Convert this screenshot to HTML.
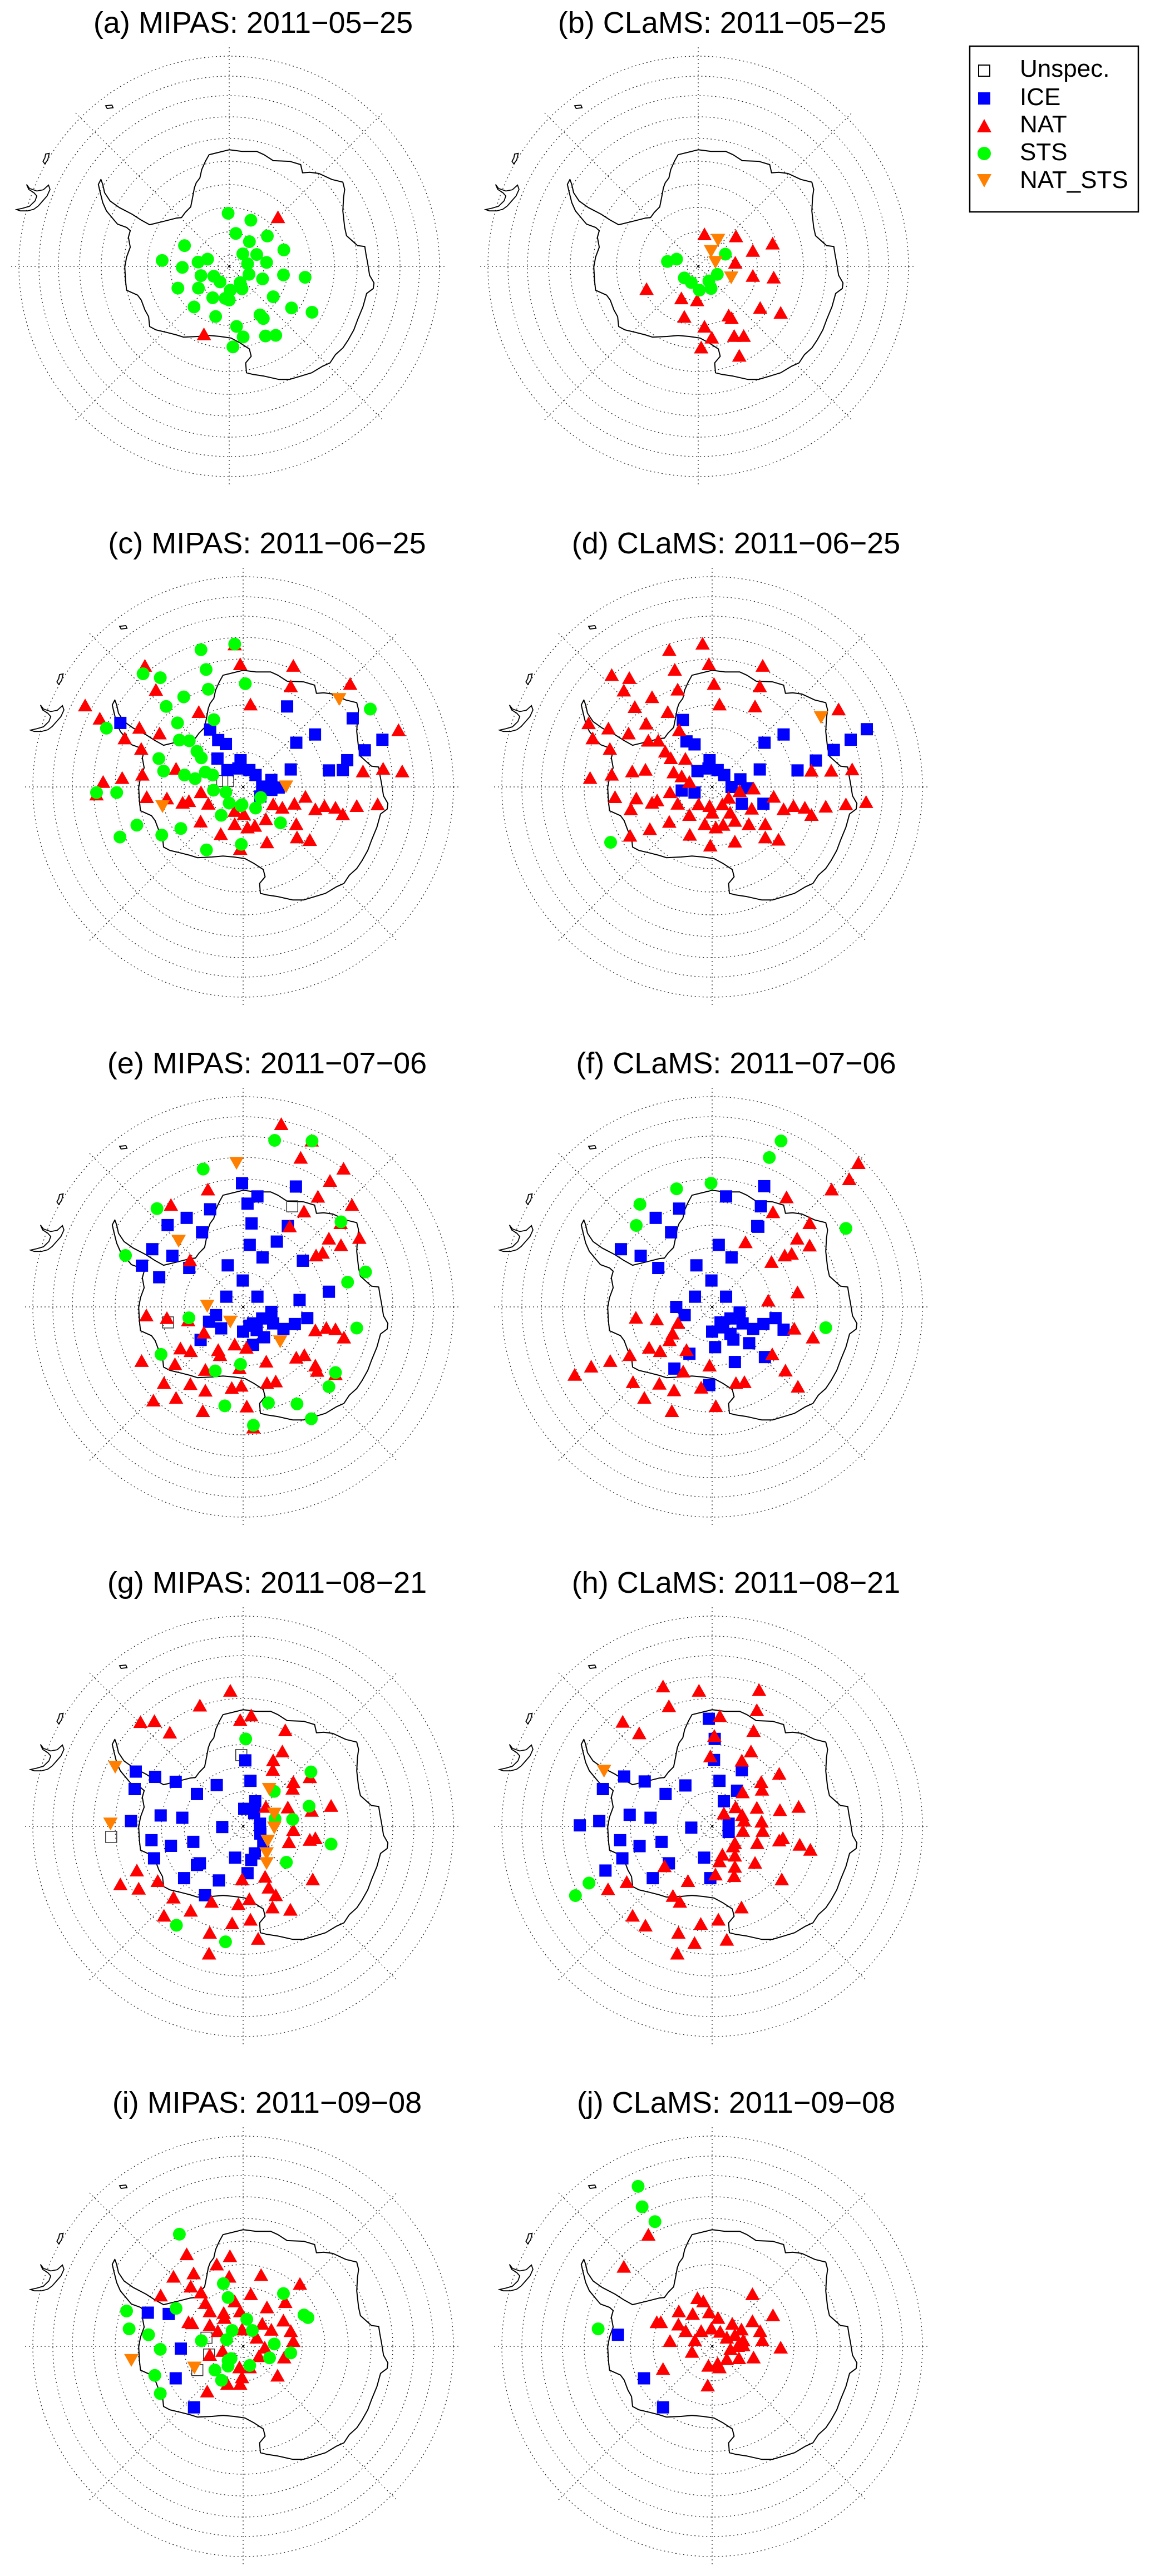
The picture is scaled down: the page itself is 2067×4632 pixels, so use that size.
<!DOCTYPE html>
<html>
<head>
<meta charset="utf-8">
<style>
  html,body{margin:0;padding:0;background:#fff;}
  svg{display:block;}
  text{font-family:"Liberation Sans",Arial,sans-serif;fill:#000;}
</style>
</head>
<body>
<svg id="fig" xmlns="http://www.w3.org/2000/svg" width="2067" height="4632" viewBox="0 0 2067 4632">
  <g id="legend">
    <rect x="1743" y="83" width="303" height="298" fill="#fff" stroke="#000" stroke-width="2.5"/>
    <g>
      <rect x="1759" y="117" width="20" height="20" fill="none" stroke="#000" stroke-width="2"/>
      <text x="1833" y="138" font-size="44">Unspec.</text>
    </g>
    <g>
      <rect x="1758" y="166" width="22" height="22" fill="#0000ff"/>
      <text x="1833" y="189" font-size="44">ICE</text>
    </g>
    <g>
      <polygon points="1769,214 1782,238 1756,238" fill="#ff0000"/>
      <text x="1833" y="238" font-size="44">NAT</text>
    </g>
    <g>
      <circle cx="1769" cy="276" r="12" fill="#00ff00"/>
      <text x="1833" y="288" font-size="44">STS</text>
    </g>
    <g>
      <polygon points="1756,313 1782,313 1769,337" fill="#ff7f00"/>
      <text x="1833" y="338" font-size="44">NAT_STS</text>
    </g>
  </g>
</svg>
<script>
// ---------- data (marker positions, zoom-image map coords) ----------
const a_STS=[[622,647],[684,668],[643,708],[729,716],[680,733],[503,745],[774,758],[662,770],[700,772],[442,790],[540,795],[566,786],[497,811],[675,800],[727,796],[548,836],[679,832],[773,834],[832,841],[583,838],[600,855],[716,846],[655,857],[485,874],[541,874],[628,880],[660,876],[580,903],[614,905],[625,910],[745,900],[529,931],[795,934],[851,947],[588,960],[709,955],[718,966],[645,990],[663,1022],[724,1019],[752,1017],[635,1052]];
const a_NAT=[[758,660],[556,1015]];
const a_ICE=[];const a_UNS=[];const a_NS=[];

const b_NAT=[[354,712],[440,718],[540,740],[486,762],[438,798],[486,838],[543,843],[196,878],[291,906],[334,912],[299,962],[420,958],[428,966],[506,935],[562,950],[354,992],[374,1025],[435,1020],[461,1020],[345,1055],[449,1080]];
const b_NS=[[391,728],[372,762],[384,795],[427,842]];
const b_STS=[[253,793],[278,786],[411,771],[389,832],[299,843],[318,857],[366,852],[340,880],[372,875]];
const b_ICE=[];const b_UNS=[];

const c_NAT=[[395,460],[640,395],[655,455],[800,460],[793,522],[955,515],[425,533],[683,577],[232,580],[542,600],[272,620],[380,648],[435,665],[340,680],[385,712],[1087,655],[990,780],[1045,772],[1097,780],[480,772],[388,790],[333,800],[281,812],[263,850],[400,858],[455,862],[498,875],[515,870],[548,843],[568,878],[640,900],[665,910],[745,880],[770,890],[803,878],[833,857],[860,895],[885,885],[915,890],[935,910],[973,885],[1030,880],[547,932],[640,940],[675,950],[695,945],[725,925],[808,940],[602,970],[728,995],[810,980],[845,988],[655,1015]];
const c_STS=[[640,393],[548,410],[562,470],[390,483],[437,495],[669,513],[568,530],[501,553],[453,582],[1010,590],[583,622],[484,632],[290,648],[489,684],[516,686],[537,718],[549,738],[433,740],[446,778],[503,790],[532,801],[560,781],[580,790],[263,843],[318,843],[582,836],[616,842],[625,875],[657,883],[660,880],[697,890],[711,858],[603,912],[765,935],[373,942],[327,978],[441,972],[493,952],[563,1017],[658,1000]];
const c_ICE=[[328,632],[783,582],[962,618],[573,652],[595,684],[616,696],[859,667],[808,692],[1043,683],[995,715],[593,740],[656,745],[947,745],[620,775],[650,770],[680,775],[697,790],[793,773],[897,776],[935,775],[740,805],[715,825],[740,835],[760,828],[710,855]];
const c_NS=[[925,560],[780,825],[443,885]];
const c_UNS=[[606,808],[622,808]];

const d_NAT=[[349,393],[258,412],[366,455],[513,460],[273,472],[101,488],[149,497],[380,515],[505,522],[134,535],[281,532],[211,555],[164,585],[395,577],[492,583],[254,600],[38,634],[92,650],[195,635],[285,655],[147,665],[49,680],[201,687],[228,687],[96,712],[247,720],[262,740],[302,742],[720,592],[646,778],[700,778],[757,774],[42,800],[101,790],[157,780],[193,775],[270,783],[292,795],[313,812],[260,843],[110,858],[168,862],[211,875],[225,868],[281,878],[153,895],[338,880],[368,885],[375,905],[403,880],[420,860],[450,840],[488,832],[543,857],[483,893],[424,905],[437,930],[570,895],[597,885],[628,890],[646,912],[685,887],[740,880],[795,873],[313,912],[258,933],[355,940],[385,950],[405,942],[475,940],[520,940],[205,955],[314,972],[520,980],[437,993],[556,987],[370,1005],[151,975]];
const d_ICE=[[295,623],[305,688],[327,697],[518,692],[570,667],[797,651],[753,683],[707,714],[658,746],[608,776],[505,773],[368,745],[335,778],[365,770],[390,775],[408,790],[452,803],[428,826],[470,830],[292,837],[327,843],[456,877],[515,877]];
const d_NS=[[672,615]];
const d_STS=[[98,994]];
const d_UNS=[];

const e_NAT=[[767,290],[850,340],[820,392],[937,425],[900,462],[567,488],[867,510],[466,535],[960,535],[829,555],[929,590],[790,600],[897,637],[980,635],[930,657],[862,688],[880,680],[518,703],[399,870],[455,878],[513,885],[556,922],[860,915],[890,908],[915,912],[938,937],[492,970],[520,978],[595,975],[600,990],[640,958],[672,968],[386,1008],[477,1018],[726,1010],[808,998],[830,990],[860,1022],[865,1038],[915,1048],[560,1035],[653,1030],[447,1075],[519,1078],[560,1098],[632,1090],[658,1083],[728,1075],[752,1070],[418,1128],[480,1120],[553,1160],[673,1146],[691,1210]];
const e_STS=[[749,338],[851,340],[554,425],[428,545],[930,585],[342,687],[997,737],[948,768],[515,876],[973,907],[439,987],[656,1017],[587,1037],[915,1042],[897,1085],[613,1143],[732,1134],[810,1137],[849,1182],[691,1202]];
const e_ICE=[[660,468],[807,478],[702,508],[675,530],[573,547],[509,573],[457,595],[551,617],[686,590],[785,598],[681,655],[755,645],[415,668],[470,688],[716,693],[826,703],[516,725],[387,718],[434,753],[621,717],[662,763],[617,812],[702,812],[817,822],[897,797],[589,868],[570,888],[603,908],[740,858],[715,878],[690,893],[745,893],[773,910],[804,895],[838,877],[663,918],[700,913],[720,935],[690,958],[547,943],[680,900]];
const e_NS=[[645,407],[487,643],[565,840],[628,888],[764,948]];
const e_UNS=[[797,538],[458,890]];

const f_STS=[[563,340],[531,390],[278,485],[372,468],[178,532],[168,596],[740,605],[685,906]];
const f_NAT=[[774,408],[749,457],[701,488],[578,512],[541,557],[641,590],[607,637],[641,658],[466,648],[573,688],[592,683],[537,708],[608,800],[528,825],[599,910],[650,937],[167,877],[224,882],[282,893],[267,925],[259,945],[203,968],[233,978],[305,975],[150,990],[97,1008],[45,1025],[0,1050],[539,988],[575,1037],[609,1086],[368,1022],[296,1040],[159,1072],[231,1077],[271,1097],[345,1089],[440,1075],[463,1072],[190,1120],[265,1160],[385,1145]];
const f_ICE=[[517,477],[413,508],[508,538],[285,545],[221,573],[263,617],[498,598],[501,600],[393,655],[126,668],[180,688],[428,693],[228,725],[332,717],[373,763],[328,812],[413,812],[277,843],[300,868],[450,860],[425,878],[398,890],[405,905],[458,893],[487,910],[515,895],[548,877],[570,912],[375,918],[425,925],[433,942],[476,953],[383,965],[313,985],[437,1010],[519,995],[272,1030],[367,1080]];
const f_NS=[];const f_UNS=[];

const g_NAT=[[628,448],[545,493],[383,543],[421,540],[463,575],[655,537],[685,523],[778,568],[770,632],[745,659],[744,688],[800,725],[845,710],[798,745],[725,800],[785,802],[903,797],[850,812],[800,870],[788,907],[845,900],[860,895],[853,1020],[373,993],[430,1025],[328,1035],[378,1048],[723,1012],[733,1045],[752,1068],[660,1020],[577,1088],[650,1095],[680,1080],[743,1105],[792,1112],[473,1075],[520,1115],[447,1130],[633,1153],[683,1142],[572,1182],[704,1200],[570,1245]];
const g_STS=[[670,593],[848,693],[748,752],[843,797],[750,835],[798,837],[903,912],[781,967],[481,1158],[615,1208]];
const g_ICE=[[669,658],[683,720],[370,692],[423,708],[479,723],[367,745],[537,760],[591,733],[696,782],[666,805],[693,818],[709,850],[710,880],[718,910],[606,860],[357,842],[438,825],[497,832],[413,900],[466,917],[527,905],[420,955],[537,975],[545,970],[641,953],[685,960],[695,940],[675,1000],[597,1022],[502,1015],[559,1067]];
const g_NS=[[314,678],[734,745],[748,820],[748,862],[730,902],[727,940],[727,970],[301,850]];
const g_UNS=[[658,642],[303,890]];

const h_NAT=[[241,435],[339,448],[503,446],[257,495],[497,507],[396,525],[131,542],[176,577],[488,570],[381,585],[481,632],[370,647],[456,660],[558,700],[509,725],[511,748],[458,756],[439,801],[497,803],[560,810],[611,800],[407,820],[457,825],[462,842],[510,845],[513,873],[459,873],[558,902],[568,895],[614,915],[643,930],[498,910],[437,910],[432,920],[403,945],[437,948],[395,965],[492,970],[437,982],[435,1010],[384,1005],[565,1020],[245,980],[309,1025],[142,1028],[91,1050],[268,1070],[287,1088],[455,1105],[158,1130],[193,1160],[344,1155],[392,1142],[283,1182],[327,1213],[415,1203],[280,1245]];
const h_ICE=[[366,532],[382,593],[380,657],[456,688],[135,707],[191,722],[302,734],[248,760],[77,745],[395,720],[443,750],[407,782],[150,823],[207,832],[67,842],[14,855],[318,862],[420,850],[420,875],[124,900],[177,918],[237,905],[130,955],[257,970],[353,953],[213,1015],[84,992],[370,1015]];
const h_NS=[[80,690]];
const h_STS=[[39,1030],[2,1068]];
const h_UNS=[];

const i_STS=[[489,535],[609,685],[622,727],[480,760],[345,768],[352,822],[405,840],[773,715],[829,780],[840,788],[673,793],[688,827],[633,827],[618,855],[549,858],[437,884],[748,868],[793,895],[735,910],[622,918],[630,912],[622,935],[681,933],[586,947],[604,978],[422,963],[437,1018]];
const i_NAT=[[509,597],[591,628],[627,603],[473,665],[528,655],[625,665],[712,660],[520,695],[548,713],[438,722],[560,745],[640,740],[684,718],[572,770],[610,775],[655,770],[728,758],[818,687],[778,742],[514,803],[524,806],[572,812],[594,830],[612,790],[660,825],[715,808],[740,826],[773,798],[793,830],[800,860],[700,850],[722,880],[706,906],[775,910],[607,890],[572,902],[653,940],[681,940],[655,990],[620,990],[565,1013],[757,965],[660,970]];
const i_ICE=[[403,773],[460,777],[493,882],[479,972],[529,1060]];
const i_NS=[[358,917],[530,940]];
const i_UNS=[[563,849],[570,900],[538,947]];

const j_STS=[[173,390],[184,452],[219,497],[64,822]];
const j_NAT=[[201,538],[134,635],[485,718],[335,730],[351,740],[284,770],[322,778],[367,773],[391,790],[541,782],[224,803],[235,803],[283,810],[303,830],[345,830],[373,822],[397,832],[430,808],[455,825],[485,800],[506,830],[512,858],[260,860],[328,858],[415,850],[437,842],[460,858],[320,893],[425,885],[445,875],[460,873],[562,880],[488,910],[415,915],[448,912],[365,935],[395,940],[390,928],[241,945],[363,995]];
const j_ICE=[[118,840],[189,972],[241,1060]];
const j_NS=[];const j_UNS=[];

const panelTitles=["(a) MIPAS: 2011\u221205\u221225","(b) CLaMS: 2011\u221205\u221225","(c) MIPAS: 2011\u221206\u221225","(d) CLaMS: 2011\u221206\u221225","(e) MIPAS: 2011\u221207\u221206","(f) CLaMS: 2011\u221207\u221206","(g) MIPAS: 2011\u221208\u221221","(h) CLaMS: 2011\u221208\u221221","(i) MIPAS: 2011\u221209\u221208","(j) CLaMS: 2011\u221209\u221208"];
const panelSeries=[
 {UNS:a_UNS,ICE:a_ICE,NAT:a_NAT,STS:a_STS,NS:a_NS},
 {UNS:b_UNS,ICE:b_ICE,NAT:b_NAT,STS:b_STS,NS:b_NS},
 {UNS:c_UNS,ICE:c_ICE,NAT:c_NAT,STS:c_STS,NS:c_NS},
 {UNS:d_UNS,ICE:d_ICE,NAT:d_NAT,STS:d_STS,NS:d_NS},
 {UNS:e_UNS,ICE:e_ICE,NAT:e_NAT,STS:e_STS,NS:e_NS},
 {UNS:f_UNS,ICE:f_ICE,NAT:f_NAT,STS:f_STS,NS:f_NS},
 {UNS:g_UNS,ICE:g_ICE,NAT:g_NAT,STS:g_STS,NS:g_NS},
 {UNS:h_UNS,ICE:h_ICE,NAT:h_NAT,STS:h_STS,NS:h_NS},
 {UNS:i_UNS,ICE:i_ICE,NAT:i_NAT,STS:i_STS,NS:i_NS},
 {UNS:j_UNS,ICE:j_ICE,NAT:j_NAT,STS:j_STS,NS:j_NS}
];

// ---------- layout ----------
const NS_="http://www.w3.org/2000/svg";
const svg=document.getElementById('fig');
const layout=[
 {cx:412,cy:479,ox:625,oy:808},{cx:1255,cy:479,ox:337,oy:808},
 {cx:437,cy:1415,ox:663,oy:826},{cx:1280,cy:1415,ox:375,oy:826},
 {cx:437,cy:2350,ox:663,oy:843},{cx:1280,cy:2350,ox:375,oy:843},
 {cx:437,cy:3284,ox:663,oy:858},{cx:1280,cy:3284,ox:375,oy:858},
 {cx:437,cy:4219,ox:663,oy:875},{cx:1280,cy:4219,ox:375,oy:875}
];
const KX=1.518, KY=1.686;
const rings=[20,62,106,147,189,230,269,307,342,378];
const coast=[[625,455],[660,460],[700,460],[720,470],[745,488],[790,490],[820,500],[825,525],[845,523],[870,527],[905,545],[935,553],[940,575],[937,600],[935,640],[940,690],[945,715],[975,745],[995,748],[998,770],[1003,800],[1008,835],[1020,858],[1018,875],[1000,890],[990,930],[975,970],[965,1000],[950,1030],[935,1055],[915,1075],[900,1100],[880,1110],[850,1130],[820,1140],[790,1150],[760,1150],[720,1140],[690,1135],[672,1130],[670,1100],[685,1080],[680,1058],[655,1040],[630,1025],[600,1020],[570,1017],[540,1020],[500,1022],[480,1015],[455,1008],[425,1000],[408,990],[405,960],[395,940],[385,910],[375,895],[355,885],[345,880],[342,850],[340,810],[345,780],[355,750],[350,720],[355,700],[345,690],[320,680],[305,660],[290,640],[280,615],[272,580],[268,560],[275,545],[280,560],[285,585],[300,610],[325,630],[360,650],[385,668],[408,682],[445,672],[480,662],[495,660],[505,645],[520,628],[525,600],[530,570],[535,555],[545,540],[550,515],[560,490],[570,470],[600,462],[625,455]];
const samerica=[[72,560],[80,572],[100,580],[118,576],[132,562],[136,575],[128,595],[116,610],[104,625],[92,635],[75,640],[55,640],[45,636],[62,632],[80,626],[95,610],[100,595],[92,585],[78,575]];
const island1=[[124,468],[134,466],[130,485],[122,498],[117,490],[122,480]];
const island2=[[288,322],[305,320],[308,328],[292,330]];

function mk(tag,attrs){const e=document.createElementNS(NS_,tag);for(const k in attrs)e.setAttribute(k,attrs[k]);return e;}
function shapePts(list,cx,cy){return list.map(p=>[(cx+(p[0]-625)/KX).toFixed(1),(cy+(p[1]-808)/1.683).toFixed(1)].join(',')).join(' ');}

layout.forEach((L,pi)=>{
  const g=mk('g',{});
  
  
  svg.insertBefore(g,document.getElementById('legend'));
  const sx=v=>L.cx+(v-L.ox)/KX;
  const sy=v=>L.cy+(v-L.oy)/KY;
  const t=mk('text',{x:L.cx+43,y:L.cy-420,'font-size':54,'text-anchor':'middle'});
  t.textContent=panelTitles[pi];
  
  
  g.appendChild(t);
  const grid=mk('g',{fill:'none',stroke:'#222','stroke-width':1.3,'stroke-dasharray':'2 5'});
  
  
  rings.forEach(r=>grid.appendChild(mk('circle',{cx:L.cx,cy:L.cy,r:r})));
  grid.appendChild(mk('line',{x1:L.cx-392,y1:L.cy,x2:L.cx+392,y2:L.cy}));
  grid.appendChild(mk('line',{x1:L.cx,y1:L.cy-394,x2:L.cx,y2:L.cy+394}));
  grid.appendChild(mk('line',{x1:L.cx-276,y1:L.cy-276,x2:L.cx+276,y2:L.cy+276}));
  grid.appendChild(mk('line',{x1:L.cx-276,y1:L.cy+276,x2:L.cx+276,y2:L.cy-276}));
  g.appendChild(grid);
  g.appendChild(mk('circle',{cx:L.cx,cy:L.cy,r:2,fill:'#000'}));
  const cp=mk('polygon',{points:shapePts(coast,L.cx,L.cy),fill:'none',stroke:'#000','stroke-width':2,'stroke-linejoin':'round'});
  
  
  g.appendChild(cp);
  [samerica,island1,island2].forEach(s=>{
    const pl=mk('polygon',{points:shapePts(s,L.cx,L.cy),fill:'none',stroke:'#000','stroke-width':1.8});
    
    
    g.appendChild(pl);
  });
  const S=panelSeries[pi];
  S.UNS.forEach(p=>{const x=sx(p[0]),y=sy(p[1]);
    const e=mk('rect',{x:x-10,y:y-10,width:20,height:20,fill:'none',stroke:'#333','stroke-width':1.5});
    
    
    g.appendChild(e);});
  S.ICE.forEach(p=>{const x=sx(p[0]),y=sy(p[1]);
    const e=mk('rect',{x:x-11,y:y-11,width:22,height:22,fill:'#0000ff'});
    
    
    g.appendChild(e);});
  S.NAT.forEach(p=>{const x=sx(p[0]),y=sy(p[1]);
    const e=mk('polygon',{points:`${x},${y-13} ${x+13},${y+10} ${x-13},${y+10}`,fill:'#ff0000'});
    
    
    g.appendChild(e);});
  S.STS.forEach(p=>{const x=sx(p[0]),y=sy(p[1]);
    const e=mk('circle',{cx:x,cy:y,r:11.5,fill:'#00ff00'});
    
    
    g.appendChild(e);});
  S.NS.forEach(p=>{const x=sx(p[0]),y=sy(p[1]);
    const e=mk('polygon',{points:`${x-13},${y-11} ${x+13},${y-11} ${x},${y+12}`,fill:'#ff7f00'});
    
    
    g.appendChild(e);});
});
</script>
</body>
</html>
